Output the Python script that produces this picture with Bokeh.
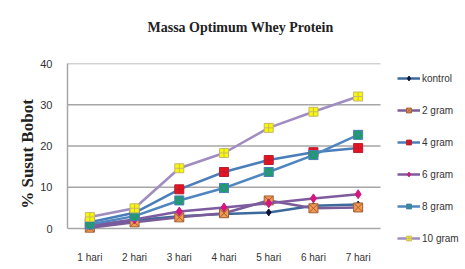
from bokeh.plotting import figure
from bokeh.models import Legend, LegendItem, Range1d, FixedTicker
from bokeh.embed import file_html
from bokeh.resources import INLINE

days = ["1 hari", "2 hari", "3 hari", "4 hari", "5 hari", "6 hari", "7 hari"]
series_names = ["kontrol", "2 gram", "4 gram", "6 gram", "8 gram", "10 gram"]
kontrol = [0.5, 2.0, 3.0, 3.5, 3.9, 5.5, 5.8]
gram2 = [0.2, 1.5, 2.7, 3.7, 6.8, 4.9, 5.1]
gram4 = [1.5, 3.8, 9.5, 13.7, 16.6, 18.5, 19.5]
gram6 = [0.7, 2.2, 4.1, 5.1, 6.1, 7.3, 8.3]
gram8 = [1.0, 3.0, 6.8, 9.8, 13.7, 17.8, 22.7]
gram10 = [2.8, 4.9, 14.6, 18.3, 24.4, 28.3, 32.0]
y_ticks = [0, 10, 20, 30, 40]

values = [kontrol, gram2, gram4, gram6, gram8, gram10]
line_colors = ["#3C6A9C", "#7A5C99", "#4A7EBB", "#7E5A9E", "#4F86C0", "#A08CC0"]
marker_types = ["diamond", "square_x", "square_cross", "diamond", "square_x", "square_cross"]
marker_fill = ["#111133", "#F59A4B", "#F01020", "#E0107F", "#18A060", "#F8F800"]
marker_line = ["#111133", "#A0603A", "#B02030", "#C0207F", "#4A7EBB", "#C8B86A"]
marker_size = [7, 9, 9, 9, 9, 9]

W, H = 464, 268
left, top = 67, 63
plot_w = 313          # width of the category area in px
plot_h = 165          # height of the 0..40 area in px
extra_below = 16      # frame extends below y=0 so the legend is not clipped

n = len(days)
xpos = list(range(1, n + 1))
x_end = 0.5 + (W - left) / (plot_w / n)
y_lo = -(extra_below / plot_h) * (y_ticks[-1] - y_ticks[0])

p = figure(width=W, height=H, x_range=Range1d(0.5, x_end),
           y_range=Range1d(y_lo, y_ticks[-1]), output_backend="svg",
           toolbar_location=None, min_border_left=left, min_border_right=0,
           min_border_top=top, min_border_bottom=H - top - plot_h - extra_below)
p.background_fill_color = "white"
p.border_fill_color = "white"
p.outline_line_color = None
p.grid.grid_line_color = None

p.title.text = "Massa Optimum Whey Protein\n "
p.title.align = "left"
p.title.offset = 80
p.title.standoff = 28
p.title.text_font = "Liberation Serif"
p.title.text_font_style = "bold"
p.title.text_font_size = "14px"
p.title.text_color = "#222222"

# horizontal grid lines (and zero line) limited to the category area
p.segment(x0=0.5, x1=n + 0.5, y0=y_ticks, y1=y_ticks,
          line_color="#A6A6A6", line_width=1.5)

p.xaxis.ticker = FixedTicker(ticks=xpos)
p.xaxis.major_label_overrides = {x: d for x, d in zip(xpos, days)}
p.xaxis.axis_line_color = None
p.yaxis.ticker = FixedTicker(ticks=y_ticks)
p.yaxis.bounds = (y_ticks[0], y_ticks[-1])
p.yaxis.axis_line_color = "#A6A6A6"
p.yaxis.axis_line_width = 1.5

for ax in (p.xaxis, p.yaxis):
    ax.major_tick_line_color = None
    ax.minor_tick_line_color = None
    ax.major_label_text_font = "Liberation Sans"
    ax.major_label_text_color = "#333333"
p.xaxis.major_label_text_font_size = "10px"
p.yaxis.major_label_text_font_size = "11px"
p.xaxis.major_label_standoff = 1
p.yaxis.major_label_standoff = 9

p.yaxis.axis_label = "% Susut Bobot"
p.yaxis.axis_label_text_font = "Liberation Serif"
p.yaxis.axis_label_text_font_style = "bold"
p.yaxis.axis_label_text_font_size = "17px"
p.yaxis.axis_label_text_color = "#222222"
p.yaxis.axis_label_standoff = 0

items = []
for name, vals, lc, mt, mf, ml, ms in zip(series_names, values, line_colors,
                                          marker_types, marker_fill, marker_line, marker_size):
    r1 = p.line(xpos, vals, line_color=lc, line_width=2.5)
    r2 = p.scatter(xpos, vals, marker=mt, size=ms, fill_color=mf, line_color=ml, line_width=1)
    items.append(LegendItem(label=name, renderers=[r1, r2]))

legend = Legend(items=items, location=(330, 0), orientation="vertical",
                glyph_width=23, glyph_height=12, label_height=12, spacing=20,
                label_standoff=2, padding=0, margin=0,
                label_text_font="Liberation Sans", label_text_font_size="10px",
                label_text_color="#333333", border_line_color=None,
                background_fill_alpha=0)
p.add_layout(legend, "center")

open("out.html", "w").write(file_html(p, INLINE))
